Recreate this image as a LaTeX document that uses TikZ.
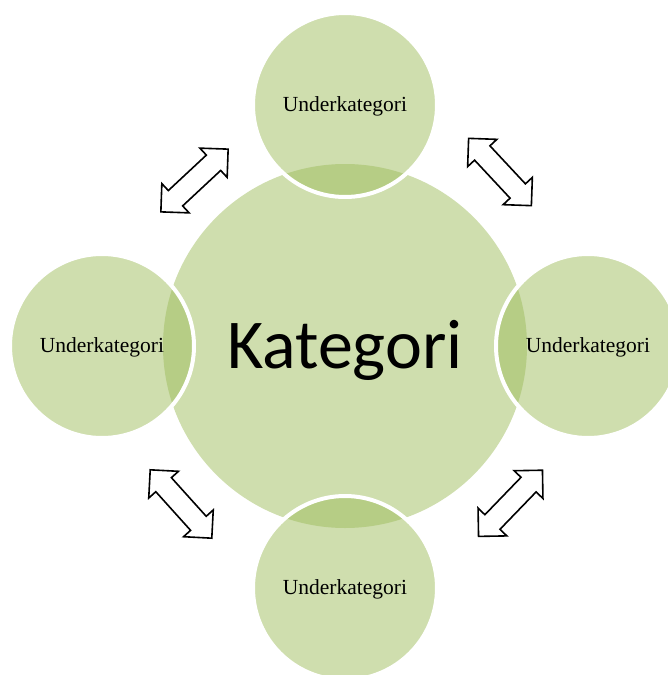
\documentclass[tikz,border=0pt]{standalone}
\usepackage{fontspec}
\setmainfont{Liberation Serif}
\newfontfamily\calib{Carlito}
\definecolor{leaf}{RGB}{159,189,93}
\definecolor{leaflight}{RGB}{207,222,174}
\begin{document}
\begin{tikzpicture}[x=1pt,y=-1pt,
  bigcirc/.style={circle,fill=leaflight,minimum size=364pt,inner sep=0pt},
  subcirc/.style={circle,fill=leaf,fill opacity=0.5,draw=white,draw opacity=1,line width=4pt,minimum size=184pt,inner sep=0pt},
  sublabel/.style={font=\fontsize{21.5}{24}\selectfont,anchor=base,text=black,inner sep=0pt},
  blockarrow/.style={draw=black,fill=white,line width=1.6pt,line join=miter}]
\useasboundingbox (0,0) rectangle (668,675);
\node[bigcirc] (cat) at (345,346) {};
\node[subcirc] (top) at (345,105) {};
\node[subcirc] (left) at (102,346) {};
\node[subcirc] (right) at (588,346) {};
\node[subcirc] (bottom) at (345,588) {};
\node[anchor=base,inner sep=0pt,font=\calib\fontsize{70}{80}\selectfont] (catlabel) at (345,368) {Kategori};
\node[sublabel] (tl) at (345,111.7) {Underkategori};
\node[sublabel] (ll) at (102,352.7) {Underkategori};
\node[sublabel] (rl) at (588,352.7) {Underkategori};
\node[sublabel] (bl) at (345,594.7) {Underkategori};
\newcommand\dblarrow[3]{%
  \begin{scope}[shift={(#1,#2)},rotate=#3]
    \draw[blockarrow] (-46,0) -- (-26,20) -- (-26,10.5) -- (26,10.5) -- (26,20) -- (46,0)
      -- (26,-20) -- (26,-10.5) -- (-26,-10.5) -- (-26,-20) -- cycle;
  \end{scope}}
\dblarrow{194.5}{180.5}{43}
\dblarrow{500}{172}{-47}
\dblarrow{181}{504}{-48}
\dblarrow{510.5}{503.3}{46}
\end{tikzpicture}
\end{document}
